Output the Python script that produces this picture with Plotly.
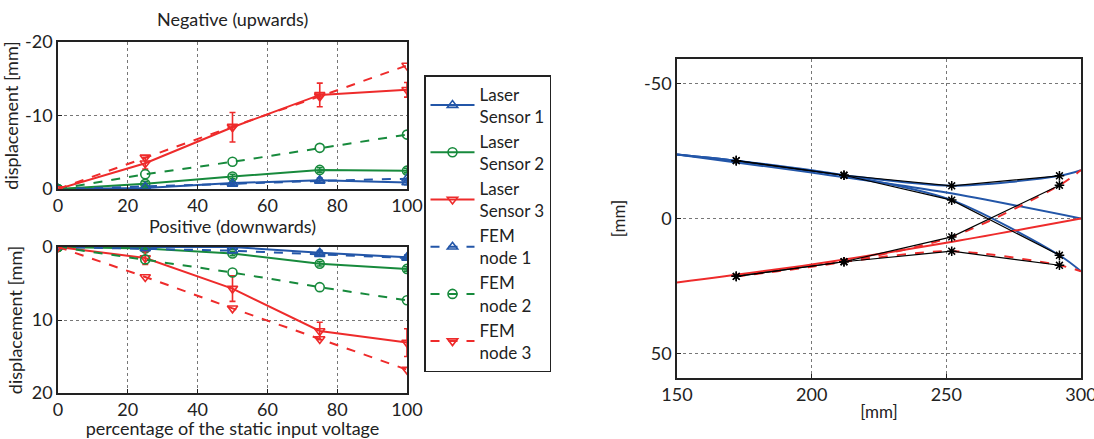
import plotly.graph_objects as go

# ---------------- data ----------------
pct = [0, 25, 50, 75, 100]

# Negative (upwards) displacement [mm]
neg_laser1 = [0, -0.15, -0.8, -1.2, -0.9]
neg_laser2 = [0, -0.7, -1.7, -2.6, -2.5]
neg_laser3 = [0, -3.5, -8.4, -12.8, -13.5]
neg_fem1 = [0, -0.3, -0.7, -1.1, -1.4]
neg_fem2 = [0, -2.0, -3.7, -5.6, -7.4]
neg_fem3 = [0, -4.3, -8.5, -12.6, -16.8]
neg_err1 = [0, 0.2, 0.2, 0.3, 0.3]
neg_err2 = [0, 0.3, 0.3, 0.3, 0.3]
neg_err3 = [0, 0.8, 2.0, 1.6, 1.0]

# Positive (downwards) displacement [mm]
pos_laser1 = [0, 0.0, 0.0, 0.8, 1.4]
pos_laser2 = [0, 0.2, 0.9, 2.3, 3.0]
pos_laser3 = [0, 1.5, 5.7, 11.5, 13.1]
pos_fem1 = [0, 0.2, 0.5, 1.0, 1.5]
pos_fem2 = [0, 1.7, 3.5, 5.5, 7.3]
pos_fem3 = [0, 4.1, 8.4, 12.6, 16.8]
pos_err1 = [0, 0.2, 0.2, 0.3, 0.3]
pos_err2 = [0, 0.3, 0.3, 0.3, 0.3]
pos_err3 = [0, 0.9, 1.75, 1.2, 1.9]

# Right plot: measured points (black stars) and shape curves
pts_x = [172, 212, 252, 292]
meas_up1 = [-21.4, -16.0, -12.1, -15.8]
meas_up2 = [-21.4, -16.0, -6.8, 13.6]
meas_dn1 = [21.4, 16.0, 6.8, -12.3]
meas_dn2 = [21.4, 16.0, 12.1, 17.3]

blueA_x = [150, 200, 250, 300]
blueA_y = [-23.7, -17.0, -9.6, 0.0]
blueB_x = [150, 172, 212, 252, 292, 300]
blueB_y = [-23.7, -21.4, -16.0, -12.1, -15.8, -17.9]
blueC_x = [150, 172, 212, 252, 292, 300]
blueC_y = [-23.7, -21.4, -16.0, -6.8, 13.6, 19.5]
redA_x = [150, 200, 250, 300]
redA_y = [23.7, 17.0, 9.0, 0.0]
redB_x = [172, 212, 252, 292, 300]
redB_y = [21.4, 16.0, 6.8, -12.3, -17.9]
redC_x = [172, 212, 252, 292, 300]
redC_y = [21.4, 16.0, 12.1, 17.3, 19.5]

names = ["Laser<br>Sensor 1", "Laser<br>Sensor 2", "Laser<br>Sensor 3",
         "FEM<br>node 1", "FEM<br>node 2", "FEM<br>node 3"]

BLUE = "#2356a8"
GREEN = "#178a3c"
RED = "#ee2b2b"
FONT = "Lato"
FS = 18

fig = go.Figure()

def add_series(ys, xa, ya, name, color, sym, dash, err, show):
    fig.add_trace(go.Scatter(
        x=pct, y=ys, xaxis=xa, yaxis=ya, name=name, showlegend=show,
        mode="lines+markers",
        line=dict(color=color, width=2, dash=dash),
        marker=dict(symbol=sym, size=9, color=color, line=dict(width=1.6, color=color)),
        error_y=(dict(type="data", array=err, color=color, thickness=1.6, width=3)
                 if err is not None else None),
    ))

groups = [
    ("x", "y", [neg_laser1, neg_laser2, neg_laser3], [neg_fem1, neg_fem2, neg_fem3],
     [neg_err1, neg_err2, neg_err3], True),
    ("x2", "y2", [pos_laser1, pos_laser2, pos_laser3], [pos_fem1, pos_fem2, pos_fem3],
     [pos_err1, pos_err2, pos_err3], False),
]
colors = [BLUE, GREEN, RED]
syms = ["triangle-up-open", "circle-open", "triangle-down-open"]
for xa, ya, lasers, fems, errs, show in groups:
    for i in range(3):
        add_series(lasers[i], xa, ya, names[i], colors[i], syms[i], "solid", errs[i], show)
    for i in range(3):
        add_series(fems[i], xa, ya, names[3 + i], colors[i], syms[i], "dash", None, show)

# right plot curves
for cx, cy, col, dash in [(blueA_x, blueA_y, BLUE, "solid"), (blueB_x, blueB_y, BLUE, "solid"),
                          (blueC_x, blueC_y, BLUE, "solid"), (redA_x, redA_y, RED, "solid"),
                          (redB_x, redB_y, RED, "dash"), (redC_x, redC_y, RED, "dash")]:
    fig.add_trace(go.Scatter(x=cx, y=cy, xaxis="x3", yaxis="y3", mode="lines",
                             line=dict(color=col, width=2, dash=dash, shape="spline", smoothing=0.8),
                             showlegend=False))
for my in [meas_up1, meas_up2, meas_dn1, meas_dn2]:
    fig.add_trace(go.Scatter(x=pts_x, y=my, xaxis="x3", yaxis="y3", mode="lines+markers",
                             line=dict(color="black", width=1.2),
                             marker=dict(symbol="asterisk-open", size=8,
                                         line=dict(color="black", width=1.5)),
                             showlegend=False))

ax_common = dict(showline=True, linecolor="#222", linewidth=1.5, mirror=True,
                 ticks="inside", ticklen=4, tickcolor="#222", automargin=False,
                 ticklabeloverflow="allow",
                 showgrid=True, gridcolor="#777", griddash="dot", gridwidth=1,
                 zeroline=False, tickfont=dict(size=FS, color="#222", family=FONT))

L0, L1 = 58 / 1094, 407 / 1094
fig.update_layout(
    width=1094, height=439,
    margin=dict(l=0, r=0, t=0, b=0),
    paper_bgcolor="white", plot_bgcolor="white",
    font=dict(family=FONT, color="#222"),
    xaxis=dict(domain=[L0, L1], range=[0, 100], tickvals=[0, 20, 40, 60, 80, 100],
               anchor="y", **ax_common),
    yaxis=dict(domain=[1 - 189 / 439, 1 - 42 / 439], range=[0, -20],
               tickvals=[-20, -10, 0], ticktext=["-20", "-10", "0"], anchor="x",
               title=dict(text="displacement [mm]", font=dict(size=FS), standoff=4),
               **ax_common),
    xaxis2=dict(domain=[L0, L1], range=[0, 100], tickvals=[0, 20, 40, 60, 80, 100],
                anchor="y2",
                title=dict(text="percentage of the static input voltage", font=dict(size=FS), standoff=2),
                **ax_common),
    yaxis2=dict(domain=[1 - 393 / 439, 1 - 247 / 439], range=[20, 0],
                tickvals=[0, 10, 20], anchor="x2",
                title=dict(text="displacement [mm]", font=dict(size=FS), standoff=4),
                **ax_common),
    xaxis3=dict(domain=[677 / 1094, 1081 / 1094], range=[150, 300],
                tickvals=[150, 200, 250, 300], anchor="y3",
                title=dict(text="[mm]", font=dict(size=FS - 1), standoff=2),
                **ax_common),
    yaxis3=dict(domain=[1 - 378 / 439, 1 - 59 / 439], range=[59, -59],
                tickvals=[-50, 0, 50], ticktext=["-50", "0", "50"], anchor="x3",
                title=dict(text="[mm]", font=dict(size=FS - 1), standoff=14),
                **ax_common),
    legend=dict(x=424 / 1094, y=1 - 75 / 439, xanchor="left", yanchor="top",
                bordercolor="#222", borderwidth=1.5, bgcolor="white",
                font=dict(size=FS - 1, family=FONT, color="#222"),
                itemwidth=44, tracegroupgap=0),
    annotations=[
        dict(text="Negative (upwards)", x=(L0 + L1) / 2, y=1 - 19 / 439, xref="paper", yref="paper",
             xanchor="center", yanchor="middle",
             showarrow=False, font=dict(size=FS, family=FONT, color="#222")),
        dict(text="Positive (downwards)", x=(L0 + L1) / 2, y=1 - 226 / 439, xref="paper", yref="paper",
             xanchor="center", yanchor="middle",
             showarrow=False, font=dict(size=FS, family=FONT, color="#222")),
    ],
)

fig.write_html("out.html", config={"displayModeBar": False},
               post_script="document.body.style.margin='0';")
